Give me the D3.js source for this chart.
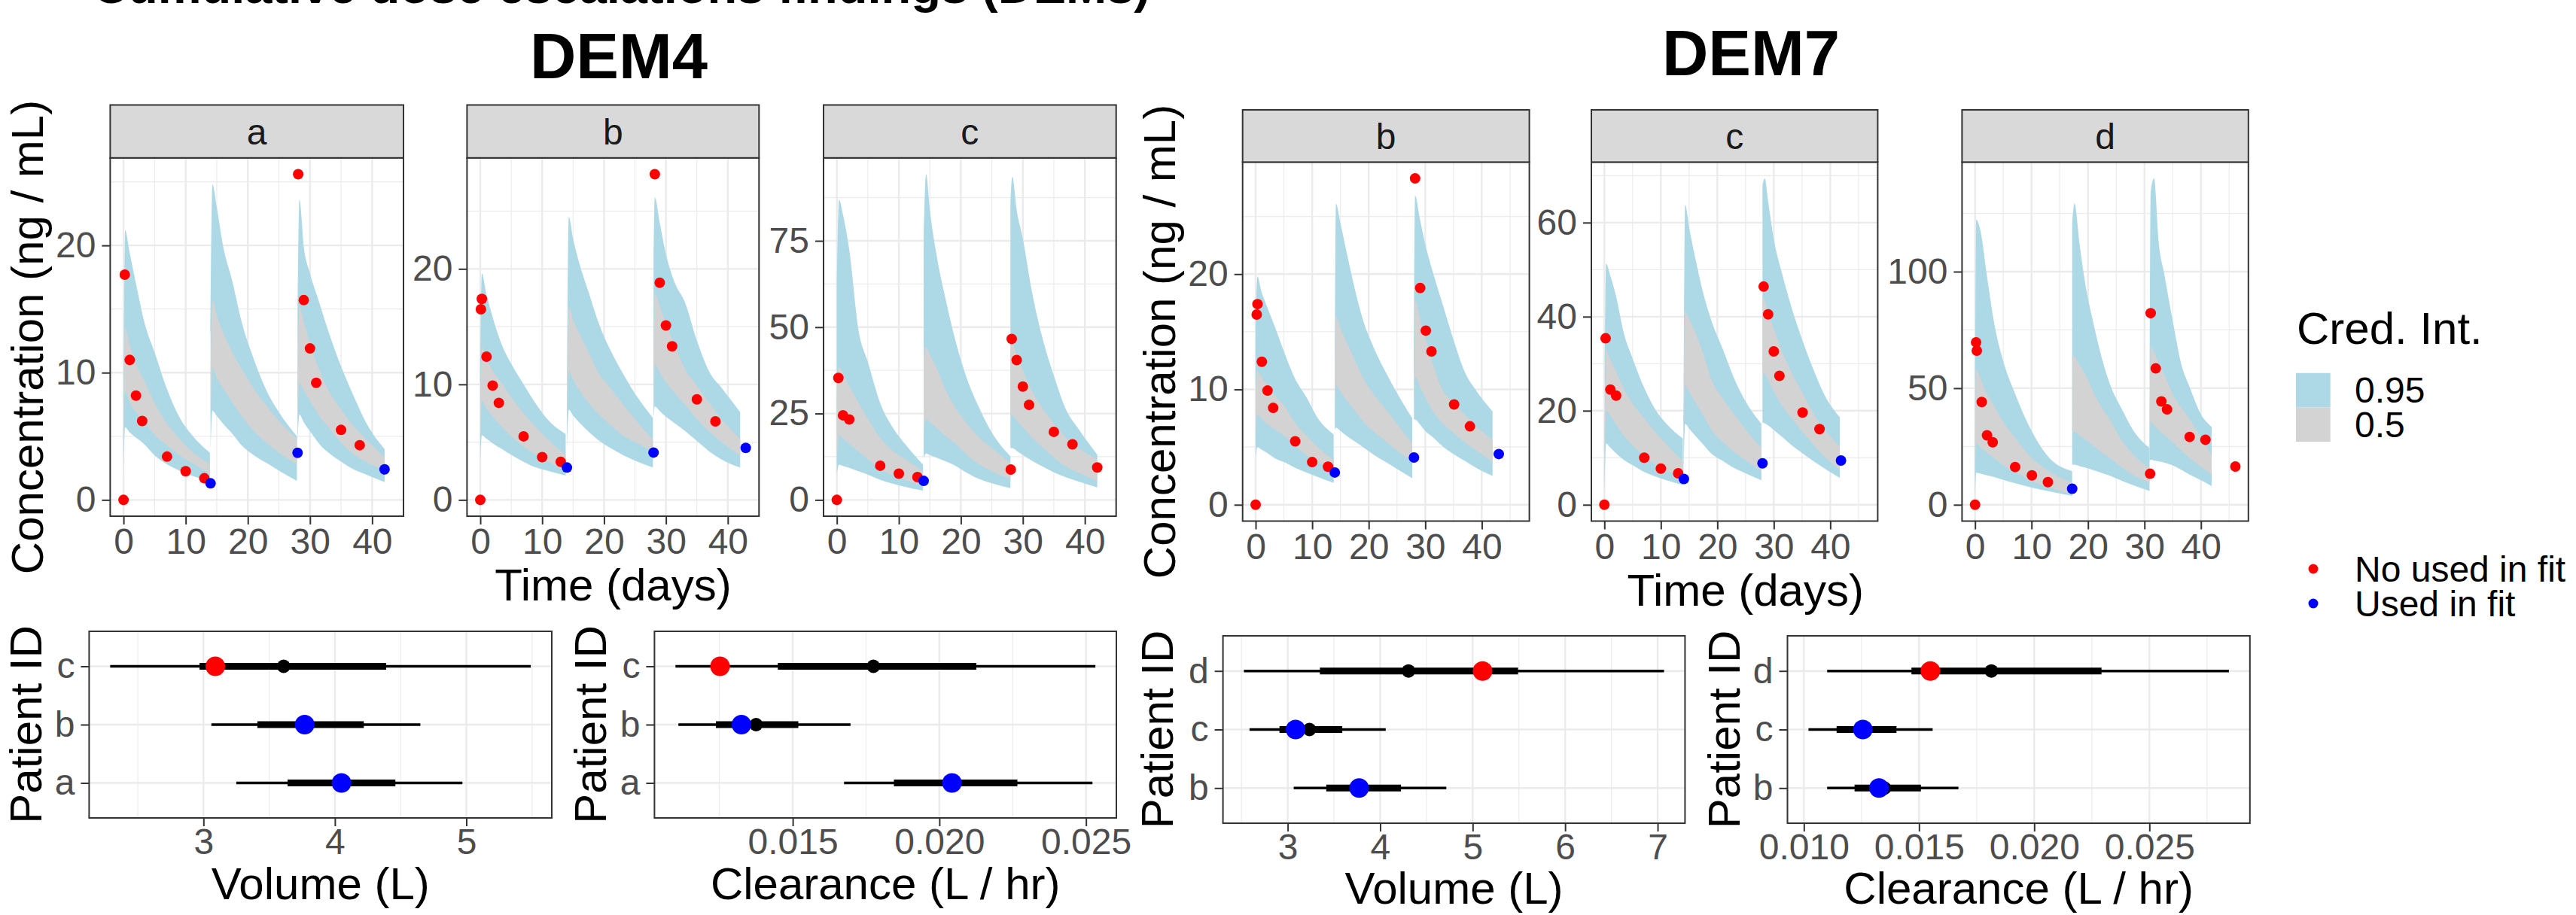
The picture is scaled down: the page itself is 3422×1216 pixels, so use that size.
<!DOCTYPE html>
<html><head><meta charset="utf-8">
<script src="https://cdn.jsdelivr.net/npm/d3@7"></script>
<style>body{margin:0;background:#fff}svg{display:block}</style>
</head><body>
<svg id="chart" width="3422" height="1216"></svg>
<script>
// ---------------- DATA ----------------
// observed concentrations [day, ng/mL]
const dem4a_notUsed = [[0,0],[0.2,17.7],[1,11.0],[2,8.2],[3,6.2],[7,3.4],[10,2.25],[13,1.7],[28.1,25.6],[29,15.7],[30,11.9],[31,9.2],[35,5.5],[38,4.3]];
const dem4a_used    = [[14,1.3],[28,3.7],[42,2.4]];
const dem4b_notUsed = [[0,0],[0.1,16.5],[0.25,17.4],[1,12.4],[2,9.9],[3,8.4],[7,5.5],[10,3.7],[13,3.3],[28.2,28.2],[29,18.8],[30,15.1],[31,13.3],[35,8.7],[38,6.8]];
const dem4b_used    = [[14,2.8],[28,4.1],[42.9,4.5]];
const dem4c_notUsed = [[0,0],[0.25,35.3],[1,24.5],[2,23.3],[7,9.9],[10,7.6],[13,6.6],[28.05,8.8],[28.2,46.6],[29,40.5],[30,32.8],[31,27.5],[35,19.7],[38,16.1],[42,9.4]];
const dem4c_used    = [[14,5.5]];
const dem7b_notUsed = [[0,0],[0.19,16.5],[0.33,17.4],[1.1,12.4],[2.1,9.9],[3.1,8.4],[7,5.5],[10,3.7],[12.8,3.3],[28.2,28.3],[29.1,18.8],[30.1,15.1],[31.1,13.3],[35.1,8.7],[37.9,6.8]];
const dem7b_used    = [[14,2.8],[28,4.1],[43,4.4]];
const dem7c_notUsed = [[0,0],[0.22,35.4],[1.06,24.5],[2.08,23.2],[7.06,10.0],[10,7.7],[13.07,6.7],[28.2,46.4],[29,40.5],[30,32.6],[31,27.4],[35.1,19.6],[38.1,16.1]];
const dem7c_used    = [[14.08,5.5],[28,8.8],[41.9,9.4]];
const dem7d_notUsed = [[0,0],[0.18,69.7],[0.31,66.1],[1.19,44.1],[2.12,29.8],[3.13,26.8],[7.1,16.2],[10.07,12.6],[12.9,9.7],[31,13.3],[31.1,82.2],[32,58.5],[33,44.3],[34,40.9],[38,29.1],[40.8,27.9],[46.1,16.4]];
const dem7d_used    = [[17.2,6.9]];

// credible intervals per dosing cycle: [day, lo95, lo50, hi50, hi95]
const dem4a_ci = [
 [[0,2.0,3.0,5.0,7.5],[0.25,5.7,8.5,13.5,21.2],[1,5.3,7.6,12.2,19.4],[2,4.9,6.9,10.7,17.0],[3.5,4.3,6.1,9.2,13.7],[5,3.5,5.1,7.6,11.6],[7,2.8,4.3,6.0,8.7],[9,2.3,3.5,4.8,6.5],[11,1.9,2.9,3.8,5.1],[13.9,1.5,2.0,2.8,3.7]],
 [[14,3.9,6.0,10.0,13.0],[14.3,7.0,10.4,15.8,24.8],[15,6.6,9.6,14.5,23.0],[16,6.0,8.8,13.2,20.0],[17.5,5.2,7.7,11.6,17.2],[19,4.3,6.6,10.3,14.0],[21,3.5,5.4,8.7,11.0],[23,2.9,4.5,7.4,8.6],[25,2.3,3.7,6.2,6.9],[27.9,1.5,2.8,4.8,5.0]],
 [[28,4.6,6.0,9.0,15.2],[28.3,6.7,9.2,15.2,23.6],[29,6.1,8.6,14.0,19.9],[30,5.4,7.8,12.3,17.8],[31.5,4.4,6.6,10.2,15.5],[33,3.7,5.7,8.6,13.2],[35,3.0,4.5,7.1,10.5],[37,2.4,3.6,5.8,8.2],[39,2.0,3.0,4.8,6.1],[42,1.4,2.3,3.3,4.0]]
];
const dem4b_ci = [
 [[0,3.1,5.0,8.0,10.1],[0.25,5.6,8.5,13.2,19.6],[1,5.3,7.9,12.2,17.8],[2,4.9,7.2,11.2,15.8],[3.5,4.4,6.3,10.1,13.4],[5,3.9,5.5,8.9,11.8],[7,3.3,4.6,7.5,10.0],[9,2.8,3.9,6.3,8.3],[11,2.5,3.3,5.2,6.9],[13.8,2.1,2.5,3.9,5.7]],
 [[14,4.5,5.5,6.5,7.6],[14.3,7.8,11.1,16.7,24.5],[15,7.3,10.4,15.6,22.6],[16,6.7,9.5,14.4,20.5],[17.5,5.9,8.4,12.8,18.0],[19,5.2,7.5,11.1,15.5],[21,4.5,6.5,9.7,13.0],[23,3.9,5.6,8.3,11.0],[25,3.4,5.0,7.0,9.2],[27.9,2.8,4.2,5.2,7.1]],
 [[28,7.0,9.0,12.0,20.9],[28.2,8.1,11.8,17.9,26.2],[29,7.7,11.0,16.8,24.0],[30,7.2,10.2,15.3,21.3],[31.5,6.6,9.2,13.3,18.7],[33,6.0,8.3,11.4,17.2],[35,5.1,7.0,9.9,13.8],[37,4.2,5.9,8.4,11.1],[39,3.5,5.0,7.0,9.7],[42,2.8,3.8,5.3,7.6]]
];
const dem4c_ci = [
 [[0,7.4,10.0,30.0,62.0],[0.35,10.2,18.8,38.6,86.9],[1,9.8,17.8,36.5,82.5],[2,9.3,16.2,33.0,72.5],[3.5,8.3,14.0,28.2,49.1],[5,7.3,11.8,23.5,40.0],[7,5.8,8.9,18.0,28.0],[9,4.7,7.1,14.2,21.0],[11,3.8,5.8,11.8,16.2],[13.9,2.7,4.1,8.3,10.2]],
 [[14,12.0,20.0,40.0,77.0],[14.4,13.5,23.5,44.3,94.3],[15,13.0,22.5,42.0,84.0],[16,12.3,21.0,38.5,71.8],[17.5,11.2,18.5,32.0,58.5],[19,10.0,16.5,27.0,47.0],[21,7.8,13.0,22.0,35.0],[23,6.0,10.2,18.0,26.5],[25,4.8,8.3,15.0,19.5],[28,3.4,6.0,10.7,12.6]],
 [[28,15.0,24.4,45.3,86.5],[28.3,15.0,24.4,45.3,93.6],[29,14.2,23.0,42.0,84.0],[30,13.0,21.0,37.5,75.6],[31.5,11.3,18.0,31.5,60.0],[33,9.8,15.5,27.0,48.0],[35,8.0,12.3,22.2,36.0],[37,6.5,9.6,18.0,26.0],[39,5.3,7.8,15.0,20.5],[42,3.6,5.5,11.6,13.1]]
];
const dem7b_ci = [
 [[0,4.0,6.0,10.0,14.7],[0.3,5.0,7.8,11.6,19.8],[1,4.8,7.5,11.1,18.5],[2,4.5,7.0,10.4,17.2],[3.5,4.0,6.5,9.4,15.3],[5,3.7,6.0,8.6,13.3],[7,3.2,5.1,7.1,10.9],[9,2.8,4.3,6.0,9.3],[11,2.4,3.7,5.0,7.5],[13.8,1.9,2.9,3.9,6.1]],
 [[14,6.5,8.0,11.0,14.0],[14.2,6.7,10.4,16.4,26.1],[15,6.4,9.8,15.3,24.4],[16,6.0,9.1,14.2,22.1],[17.5,5.5,8.2,12.6,18.8],[19,5.0,7.2,11.0,16.0],[21,4.3,6.3,9.5,13.5],[23,3.7,5.5,8.3,11.5],[25,3.1,4.7,7.0,9.7],[27.7,2.3,3.7,5.3,7.5]],
 [[28,7.4,8.5,10.0,11.1],[28.2,7.4,11.1,17.8,26.8],[29,7.0,10.3,16.3,24.9],[30,6.4,9.3,14.5,22.6],[31.5,5.8,8.0,12.0,19.9],[33,5.1,7.1,10.0,17.5],[35,4.4,6.2,8.9,14.3],[37,3.8,5.4,7.8,11.5],[39,3.2,4.7,6.8,9.9],[41.9,2.5,3.7,5.6,8.1]]
];
const dem7c_ci = [
 [[0,2.2,5.0,8.0,10.2],[0.3,13.0,20.0,32.8,51.3],[1,12.2,19.0,31.0,48.9],[2,11.0,17.2,28.5,44.7],[3.5,9.5,14.6,24.5,36.2],[5,8.4,12.6,21.5,31.1],[7,7.0,10.4,18.5,25.0],[9,6.0,8.6,15.5,20.3],[11,5.2,7.3,12.8,17.2],[13.9,4.2,5.7,9.2,14.1]],
 [[14,5.5,8.0,12.0,17.0],[14.3,17.2,25.5,41.2,63.8],[15,16.2,24.0,39.5,59.0],[16,14.8,22.0,37.0,53.0],[17.5,12.8,19.0,32.0,45.0],[19,10.8,15.8,26.5,39.0],[21,9.3,13.3,22.5,33.0],[23,7.8,11.2,19.2,26.8],[25,6.7,9.5,16.0,22.0],[27.8,5.2,7.1,12.0,17.2]],
 [[28,17.5,28.0,44.0,68.0],[28.4,17.3,27.8,43.5,69.4],[29,16.9,26.5,41.0,64.5],[30,15.9,24.0,37.5,56.5],[31.5,14.4,21.0,32.5,49.0],[33,12.8,18.6,28.5,42.5],[35,11.0,15.6,24.0,35.2],[37,9.3,12.8,19.5,28.8],[39,7.7,10.2,16.0,23.3],[41.7,5.7,7.4,12.3,18.6]]
];
const dem7d_ci = [
 [[0,3.8,10.0,20.0,34.0],[0.2,13.7,26.4,58.1,122.3],[1,13.3,24.5,54.0,117.0],[2,12.7,22.5,48.0,100.0],[3.5,11.8,19.8,42.0,76.4],[5,10.7,17.0,35.5,61.5],[7,9.3,14.2,29.0,48.2],[10,7.4,10.3,20.2,31.7],[13,5.8,7.5,14.5,20.5],[17.2,3.8,4.5,9.4,14.4]],
 [[17.2,17.2,31.3,63.8,120.9],[17.6,17.2,31.3,63.5,129.3],[18.5,16.6,29.8,60.0,112.0],[19.5,16.0,28.0,56.0,95.0],[21,14.8,25.3,48.0,77.5],[22.5,13.6,22.3,41.5,62.5],[24,12.4,19.8,36.0,51.0],[26,10.3,16.0,27.5,41.0],[28,8.4,12.8,21.5,32.0],[30.9,5.9,9.4,15.8,24.3]],
 [[30.9,18.6,22.0,30.0,36.2],[31.1,19.3,35.5,68.0,134.3],[31.7,19.0,34.3,65.5,140.0],[32.5,18.7,32.0,61.0,113.0],[33.5,18.1,30.0,56.0,99.0],[35,16.9,26.7,47.5,79.0],[36.5,15.0,23.3,41.8,60.5],[38,12.9,20.0,36.6,50.5],[40,10.5,16.3,29.0,38.8],[41.9,8.0,13.0,21.4,33.4]]
];

// y tick values of the concentration panels
const dem4aTicks = [0,10,20], dem4bTicks = [0,10,20], dem4cTicks = [0,25,50,75];
const dem7bTicks = [0,10,20], dem7cTicks = [0,20,40,60], dem7dTicks = [0,50,100];
const timeTicks = [0,10,20,30,40];

// posterior summaries: [patient, lo95, lo50, median, hi50, hi95, true value, used in fit]
const dem4Volume = [["a",3.25,3.64,4.05,4.46,4.97,4.05,true],["b",3.06,3.41,3.78,4.22,4.65,3.77,true],["c",2.29,2.97,3.61,4.39,5.49,3.09,false]];
const dem4Clearance = [["a",0.01675,0.01845,0.0204,0.02266,0.02522,0.02043,true],["b",0.01110,0.01238,0.01375,0.01519,0.01697,0.01325,true],["c",0.01100,0.01449,0.01775,0.02126,0.02532,0.01252,false]];
const dem7Volume = [["b",3.065,3.417,3.77,4.225,4.715,3.772,true],["c",2.587,2.911,3.235,3.590,4.060,3.085,true],["d",2.527,3.348,4.306,5.491,7.069,5.107,false]];
const dem7Clearance = [["b",0.01101,0.01220,0.0135,0.01508,0.01671,0.01326,true],["c",0.01020,0.01142,0.0127,0.01402,0.01559,0.01256,true],["d",0.01101,0.01467,0.01814,0.02292,0.02845,0.01549,false]];
const volTicks4 = [3,4,5], volTicks7 = [3,4,5,6,7];
const clTicks4 = [0.015,0.020,0.025], clTicks7 = [0.010,0.015,0.020,0.025];

const legendCI = ["0.95","0.5"];
const legendPts = ["No used in fit","Used in fit"];

// ---------------- STYLE ----------------
const FONT = "'Liberation Sans', Arial, Helvetica, sans-serif";
const COL = {ci95:"#ADD8E6", ci50:"#D3D3D3", red:"#FF0000", blue:"#0000FF", grid:"#EBEBEB",
             border:"#333333", strip:"#D9D9D9", tick:"#4D4D4D"};
const FS = {title:60, tick:48, strip:48, head:85, top:65};

const svg = d3.select("#chart");
svg.append("rect").attr("width",3422).attr("height",1216).attr("fill","#fff");

function expand(lo, hi){ const d=(hi-lo)*0.05; return [lo-d, hi+d]; }
function minorBreaks(ticks, dom){
  const s = ticks[1]-ticks[0], out=[];
  for(let v=ticks[0]-s/2; v<=ticks[ticks.length-1]+s/2+1e-12; v+=s){ if(v>dom[0] && v<dom[1]) out.push(v); }
  return out;
}
function styleAxis(ga){
  ga.attr("font-family",FONT).attr("font-size",FS.tick);
  ga.select(".domain").remove();
  ga.selectAll(".tick line").attr("stroke",COL.border).attr("stroke-width",2);
  ga.selectAll(".tick text").attr("fill",COL.tick);
}

// ---------------- CONCENTRATION PANELS ----------------
function drawConc(p){
  const g = svg.append("g");
  const x = d3.scaleLinear().domain(p.xDom).range([p.x0,p.x1]);
  const ys = [...p.notUsed.map(d=>d[1]), ...p.used.map(d=>d[1]), ...p.ci.flat().map(r=>r[4])];
  const yDom = expand(0, d3.max(ys));
  const y = d3.scaleLinear().domain(yDom).range([p.y1,p.y0]);
  g.append("rect").attr("x",p.x0).attr("y",p.y0).attr("width",p.x1-p.x0).attr("height",p.y1-p.y0).attr("fill","#fff");
  // grid
  minorBreaks(p.yTicks,yDom).forEach(v=>g.append("line").attr("x1",p.x0).attr("x2",p.x1).attr("y1",y(v)).attr("y2",y(v)).attr("stroke",COL.grid).attr("stroke-width",1.2));
  minorBreaks(timeTicks,p.xDom).forEach(v=>g.append("line").attr("y1",p.y0).attr("y2",p.y1).attr("x1",x(v)).attr("x2",x(v)).attr("stroke",COL.grid).attr("stroke-width",1.2));
  p.yTicks.forEach(v=>g.append("line").attr("x1",p.x0).attr("x2",p.x1).attr("y1",y(v)).attr("y2",y(v)).attr("stroke",COL.grid).attr("stroke-width",2.4));
  timeTicks.forEach(v=>g.append("line").attr("y1",p.y0).attr("y2",p.y1).attr("x1",x(v)).attr("x2",x(v)).attr("stroke",COL.grid).attr("stroke-width",2.4));
  // ribbons
  const a95 = d3.area().x(r=>x(r[0])).y0(r=>y(r[1])).y1(r=>y(r[4])).curve(d3.curveMonotoneX);
  const a50 = d3.area().x(r=>x(r[0])).y0(r=>y(r[2])).y1(r=>y(r[3])).curve(d3.curveMonotoneX);
  g.selectAll(".r95").data(p.ci).join("path").attr("d",a95).attr("fill",COL.ci95);
  g.selectAll(".r50").data(p.ci).join("path").attr("d",a50).attr("fill",COL.ci50);
  // points
  g.selectAll(".pn").data(p.notUsed).join("circle").attr("cx",d=>x(d[0])).attr("cy",d=>y(d[1])).attr("r",7).attr("fill",COL.red);
  g.selectAll(".pu").data(p.used).join("circle").attr("cx",d=>x(d[0])).attr("cy",d=>y(d[1])).attr("r",7).attr("fill",COL.blue);
  // border
  g.append("rect").attr("x",p.x0).attr("y",p.y0).attr("width",p.x1-p.x0).attr("height",p.y1-p.y0).attr("fill","none").attr("stroke",COL.border).attr("stroke-width",2);
  // strip
  g.append("rect").attr("x",p.x0).attr("y",p.s0).attr("width",p.x1-p.x0).attr("height",p.y0-p.s0).attr("fill",COL.strip).attr("stroke",COL.border).attr("stroke-width",2);
  g.append("text").attr("x",(p.x0+p.x1)/2).attr("y",(p.s0+p.y0)/2+17).attr("text-anchor","middle")
   .attr("font-family",FONT).attr("font-size",FS.strip).attr("fill","#1A1A1A").text(p.label);
  // axes
  styleAxis(g.append("g").attr("transform",`translate(${p.x0},0)`).call(d3.axisLeft(y).tickValues(p.yTicks).tickSize(11).tickPadding(8)));
  styleAxis(g.append("g").attr("transform",`translate(0,${p.y1})`).call(d3.axisBottom(x).tickValues(timeTicks).tickSize(11).tickPadding(5)));
}

function groupXDom(panels){
  const xs = panels.flatMap(p=>[...p.notUsed.map(d=>d[0]),...p.used.map(d=>d[0]),...p.ci.flat().map(r=>r[0])]);
  return expand(0, d3.max(xs));
}

const dem4Panels = [
  {label:"a", notUsed:dem4a_notUsed, used:dem4a_used, ci:dem4a_ci, yTicks:dem4aTicks, x0:146.4, x1:536},
  {label:"b", notUsed:dem4b_notUsed, used:dem4b_used, ci:dem4b_ci, yTicks:dem4bTicks, x0:620.4, x1:1008.3},
  {label:"c", notUsed:dem4c_notUsed, used:dem4c_used, ci:dem4c_ci, yTicks:dem4cTicks, x0:1094, x1:1482.7}
];
const dem7Panels = [
  {label:"b", notUsed:dem7b_notUsed, used:dem7b_used, ci:dem7b_ci, yTicks:dem7bTicks, x0:1650.7, x1:2031.6},
  {label:"c", notUsed:dem7c_notUsed, used:dem7c_used, ci:dem7c_ci, yTicks:dem7cTicks, x0:2114, x1:2494.4},
  {label:"d", notUsed:dem7d_notUsed, used:dem7d_used, ci:dem7d_ci, yTicks:dem7dTicks, x0:2606.4, x1:2986.8}
];
const xd4 = groupXDom(dem4Panels), xd7 = groupXDom(dem7Panels);
dem4Panels.forEach(p=>drawConc(Object.assign(p,{xDom:xd4, s0:139.5, y0:209.8, y1:686})));
dem7Panels.forEach(p=>drawConc(Object.assign(p,{xDom:xd7, s0:146, y0:215.4, y1:692.5})));

// ---------------- FOREST PANELS ----------------
function drawForest(p){
  const g = svg.append("g");
  const xDom = expand(d3.min(p.rows,r=>r[1]), d3.max(p.rows,r=>r[5]));
  const x = d3.scaleLinear().domain(xDom).range([p.x0,p.x1]);
  const y = d3.scalePoint().domain(p.rows.map(r=>r[0])).range([p.y1,p.y0]).padding(0.6);
  g.append("rect").attr("x",p.x0).attr("y",p.y0).attr("width",p.x1-p.x0).attr("height",p.y1-p.y0).attr("fill","#fff");
  minorBreaks(p.ticks,xDom).forEach(v=>g.append("line").attr("y1",p.y0).attr("y2",p.y1).attr("x1",x(v)).attr("x2",x(v)).attr("stroke",COL.grid).attr("stroke-width",1.2));
  p.ticks.forEach(v=>g.append("line").attr("y1",p.y0).attr("y2",p.y1).attr("x1",x(v)).attr("x2",x(v)).attr("stroke",COL.grid).attr("stroke-width",2.4));
  p.rows.forEach(r=>g.append("line").attr("x1",p.x0).attr("x2",p.x1).attr("y1",y(r[0])).attr("y2",y(r[0])).attr("stroke",COL.grid).attr("stroke-width",2.4));
  g.selectAll(".thin").data(p.rows).join("line").attr("x1",r=>x(r[1])).attr("x2",r=>x(r[5])).attr("y1",r=>y(r[0])).attr("y2",r=>y(r[0])).attr("stroke","#000").attr("stroke-width",3.5);
  g.selectAll(".thick").data(p.rows).join("line").attr("x1",r=>x(r[2])).attr("x2",r=>x(r[4])).attr("y1",r=>y(r[0])).attr("y2",r=>y(r[0])).attr("stroke","#000").attr("stroke-width",9);
  g.selectAll(".med").data(p.rows).join("circle").attr("cx",r=>x(r[3])).attr("cy",r=>y(r[0])).attr("r",9).attr("fill","#000");
  g.selectAll(".tru").data(p.rows).join("circle").attr("cx",r=>x(r[6])).attr("cy",r=>y(r[0])).attr("r",13).attr("fill",r=>r[7]?COL.blue:COL.red);
  g.append("rect").attr("x",p.x0).attr("y",p.y0).attr("width",p.x1-p.x0).attr("height",p.y1-p.y0).attr("fill","none").attr("stroke",COL.border).attr("stroke-width",2);
  styleAxis(g.append("g").attr("transform",`translate(${p.x0},0)`).call(d3.axisLeft(y).tickSize(11).tickPadding(8)));
  styleAxis(g.append("g").attr("transform",`translate(0,${p.y1})`).call(d3.axisBottom(x).tickValues(p.ticks).tickFormat(p.fmt).tickSize(11).tickPadding(3)));
  g.append("text").attr("x",(p.x0+p.x1)/2).attr("y",p.titleY).attr("text-anchor","middle").attr("font-family",FONT).attr("font-size",FS.title).text(p.title);
  g.append("text").attr("transform",`translate(${p.labX},${(p.y0+p.y1)/2}) rotate(-90)`).attr("text-anchor","middle").attr("font-family",FONT).attr("font-size",FS.title).text("Patient ID");
}
const f0 = d3.format("d"), f3 = d3.format(".3f");
drawForest({rows:dem4Volume, ticks:volTicks4, fmt:f0, x0:118.4, x1:733, y0:839, y1:1087, title:"Volume (L)", titleY:1195, labX:55});
drawForest({rows:dem4Clearance, ticks:clTicks4, fmt:f3, x0:869.4, x1:1483, y0:839, y1:1087, title:"Clearance (L / hr)", titleY:1195, labX:805});
drawForest({rows:dem7Volume, ticks:volTicks7, fmt:f0, x0:1624.6, x1:2238.4, y0:845, y1:1094, title:"Volume (L)", titleY:1201, labX:1558});
drawForest({rows:dem7Clearance, ticks:clTicks7, fmt:f3, x0:2374.5, x1:2988.8, y0:845, y1:1094, title:"Clearance (L / hr)", titleY:1201, labX:2311});

// ---------------- TITLES ----------------
function txt(x,y,s,size,opts={}){
  const t = svg.append("text").attr("x",x).attr("y",y).attr("font-family",FONT).attr("font-size",size)
    .attr("text-anchor",opts.anchor||"middle").attr("fill",opts.fill||"#000").text(s);
  if(opts.bold) t.attr("font-weight","bold");
  if(opts.rot) t.attr("transform",`rotate(-90 ${x} ${y})`);
  return t;
}
txt(1528, 4, "Cumulative dose escalations findings (DEMs)", FS.top, {bold:true, anchor:"end"});
txt(822, 104, "DEM4", FS.head, {bold:true});
txt(2326, 100, "DEM7", FS.head, {bold:true});
txt(814.5, 798, "Time (days)", FS.title);
txt(2318.7, 804.5, "Time (days)", FS.title);
txt(57, 448, "Concentration (ng / mL)", FS.title, {rot:true});
txt(1561, 454, "Concentration (ng / mL)", FS.title, {rot:true});

// ---------------- LEGENDS ----------------
txt(3051, 457, "Cred. Int.", FS.title, {anchor:"start"});
const ciCols = [COL.ci95, COL.ci50];
legendCI.forEach((s,i)=>{
  svg.append("rect").attr("x",3050).attr("y",495.7+i*45.7).attr("width",45.7).attr("height",45.7).attr("fill",ciCols[i]);
  txt(3128, 535+i*45.7, s, FS.tick, {anchor:"start"});
});
const ptCols = [COL.red, COL.blue];
legendPts.forEach((s,i)=>{
  svg.append("circle").attr("cx",3073).attr("cy",756+i*46).attr("r",6.5).attr("fill",ptCols[i]);
  txt(3128, 773+i*46, s, FS.tick, {anchor:"start"});
});
</script>
</body></html>
